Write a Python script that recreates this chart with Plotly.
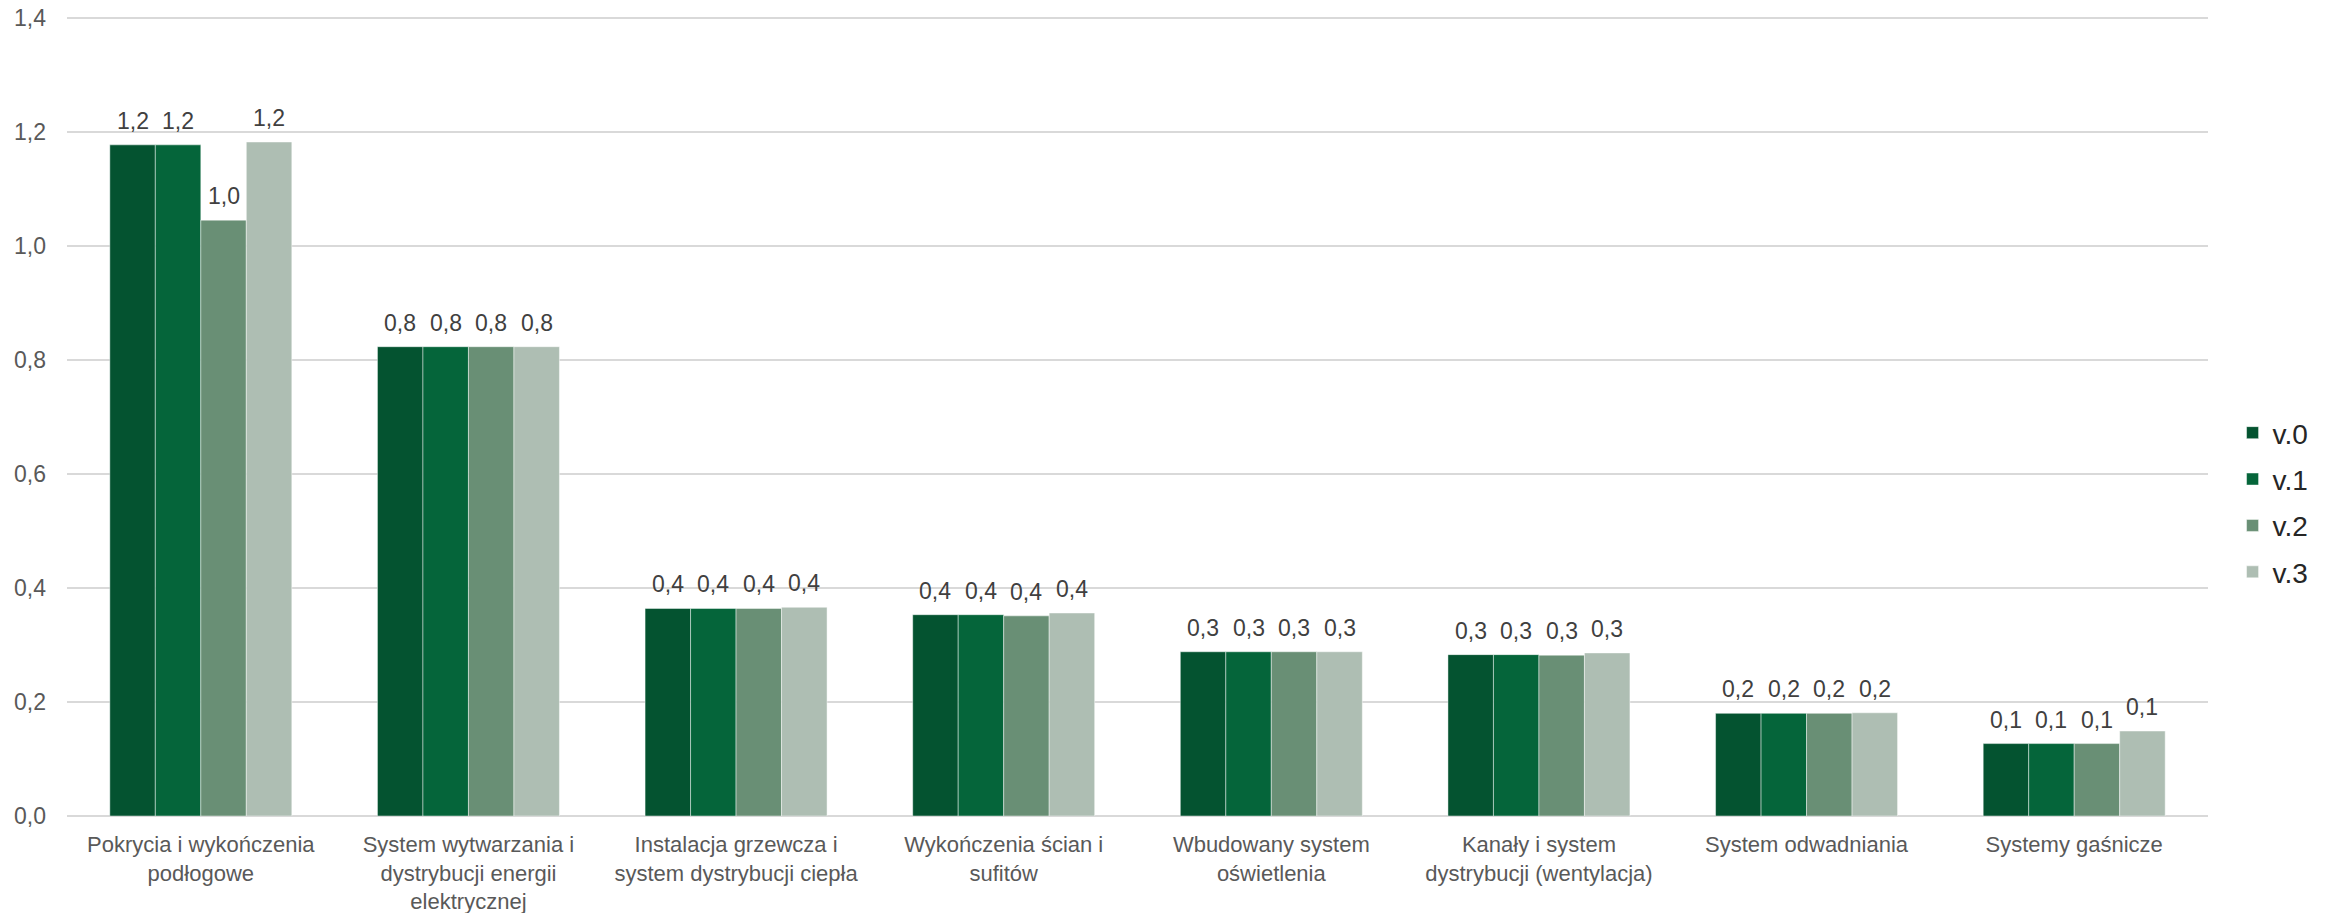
import plotly.graph_objects as go

categories = [
    "Pokrycia i wykończenia<br>podłogowe",
    "System wytwarzania i<br>dystrybucji energii<br>elektrycznej",
    "Instalacja grzewcza i<br>system dystrybucji ciepła",
    "Wykończenia ścian i<br>sufitów",
    "Wbudowany system<br>oświetlenia",
    "Kanały i system<br>dystrybucji (wentylacja)",
    "System odwadniania",
    "Systemy gaśnicze",
]
series_names = ["v.0", "v.1", "v.2", "v.3"]
v0 = [1.177, 0.823, 0.364, 0.353, 0.288, 0.283, 0.180, 0.127]
v1 = [1.177, 0.823, 0.364, 0.353, 0.288, 0.283, 0.180, 0.127]
v2 = [1.045, 0.823, 0.364, 0.351, 0.288, 0.282, 0.180, 0.127]
v3 = [1.182, 0.823, 0.366, 0.356, 0.288, 0.286, 0.181, 0.149]
colors = ["#045330", "#05653A", "#698F75", "#AEBEB3"]
y_ticks = [0, 0.2, 0.4, 0.6, 0.8, 1.0, 1.2, 1.4]

FONT = "Liberation Sans, Arial, sans-serif"
W, H = 2325, 913
ML, MR, MT, MB = 67, 116, 12, 97
BARGAP = 0.32

all_series = [v0, v1, v2, v3]
fig = go.Figure()
for i, (name, vals) in enumerate(zip(series_names, all_series)):
    fig.add_trace(go.Bar(
        x=categories, y=vals, name=name, legendgroup=name,
        marker=dict(color=colors[i], line=dict(color="rgba(255,255,255,0.45)", width=1)),
        hoverinfo="x+y+name",
    ))

# data labels as annotations above each bar
cat_px = (W - ML - MR) / len(categories)
bar_px = cat_px * (1 - BARGAP) / len(series_names)
n = len(series_names)
for i, vals in enumerate(all_series):
    dx = (i - (n - 1) / 2) * bar_px
    for c, v in zip(categories, vals):
        fig.add_annotation(
            x=c, y=v, xref="x", yref="y",
            text=f"{v:.1f}".replace(".", ","),
            showarrow=False, xanchor="center", yanchor="middle",
            xshift=dx, yshift=24,
            font=dict(family=FONT, size=23, color="#404040"),
        )

fig.update_layout(
    width=W, height=H,
    barmode="group", bargap=BARGAP, bargroupgap=0,
    separators=",.",
    plot_bgcolor="white", paper_bgcolor="white",
    margin=dict(l=ML, r=MR, t=MT, b=MB),
    font=dict(family=FONT, size=23, color="#595959"),
    legend=dict(x=1.011, xanchor="left", y=0.39, yanchor="middle",
                font=dict(size=28, color="#262626"), tracegroupgap=7,
                traceorder="grouped"),
)
fig.update_yaxes(range=[0, 1.41], tickvals=y_ticks, tickformat=".1f",
                 showgrid=True, gridcolor="#D9D9D9", gridwidth=2,
                 zeroline=True, zerolinecolor="#D9D9D9", zerolinewidth=2,
                 ticks="", ticklabelstandoff=20, automargin=False,
                 tickfont=dict(size=23, color="#595959"))
fig.update_xaxes(showline=False, ticks="", tickangle=0, automargin=False,
                 ticklabelstandoff=13,
                 tickfont=dict(size=22, color="#595959"))

fig.write_html("out.html", config={"displayModeBar": False},
               post_script="document.body.style.margin='0';document.body.style.overflow='hidden';")
